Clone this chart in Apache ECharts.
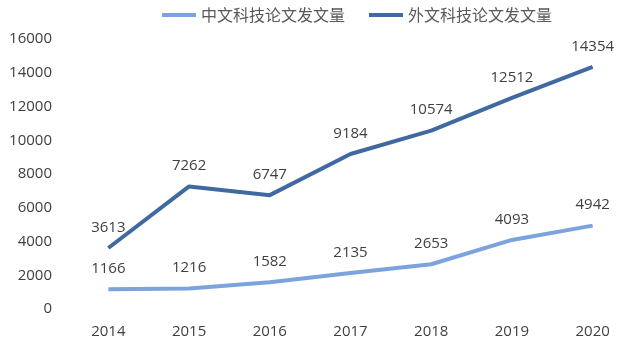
<!DOCTYPE html>
<html><head><meta charset="utf-8">
<script src="https://cdn.jsdelivr.net/npm/echarts@6/dist/echarts.min.js"></script>
<style>html,body{margin:0;padding:0;background:#fff}#c{width:635px;height:355px}</style>
</head><body><div id="c"></div>
<script>
const years = ['2014','2015','2016','2017','2018','2019','2020'];
const chineseName = '中文科技论文发文量';
const foreignName = '外文科技论文发文量';
const chineseVals = [1166, 1216, 1582, 2135, 2653, 4093, 4942];
const foreignVals = [3613, 7262, 6747, 9184, 10574, 12512, 14354];
const yTicks = {min: 0, max: 16000, interval: 2000};

const chart = echarts.init(document.getElementById('c'));
const lbl = {show: true, position: 'top', distance: 13, color: '#404040', fontSize: 15, fontFamily: 'Open Sans'};
chart.setOption({
  animation: false,
  legend: {
    top: 2, left: 157, itemWidth: 34, itemHeight: 4, itemGap: 24,
    icon: 'rect',
    textStyle: {color: '#595959', fontSize: 16, fontFamily: 'Noto Sans CJK SC'},
    data: [chineseName, foreignName]
  },
  grid: {left: 68, right: 2, top: 39, bottom: 46},
  xAxis: {
    type: 'category', data: years, boundaryGap: true,
    axisLine: {show: false}, axisTick: {show: false},
    axisLabel: {color: '#404040', fontSize: 15, margin: 15, fontFamily: 'Open Sans'}
  },
  yAxis: {
    type: 'value', min: yTicks.min, max: yTicks.max, interval: yTicks.interval,
    axisLine: {show: false}, axisTick: {show: false}, splitLine: {show: false},
    axisLabel: {color: '#404040', fontSize: 15, margin: 16, fontFamily: 'Open Sans', formatter: v => String(v)}
  },
  series: [
    {name: chineseName, type: 'line', data: chineseVals, symbol: 'circle', symbolSize: 0.01,
     lineStyle: {width: 4, color: '#7BA3DE'}, itemStyle: {color: '#7BA3DE'}, label: lbl, z: 2},
    {name: foreignName, type: 'line', data: foreignVals, symbol: 'circle', symbolSize: 0.01,
     lineStyle: {width: 4, color: '#4169A1'}, itemStyle: {color: '#4169A1'}, label: lbl, z: 3}
  ]
});
</script></body></html>
